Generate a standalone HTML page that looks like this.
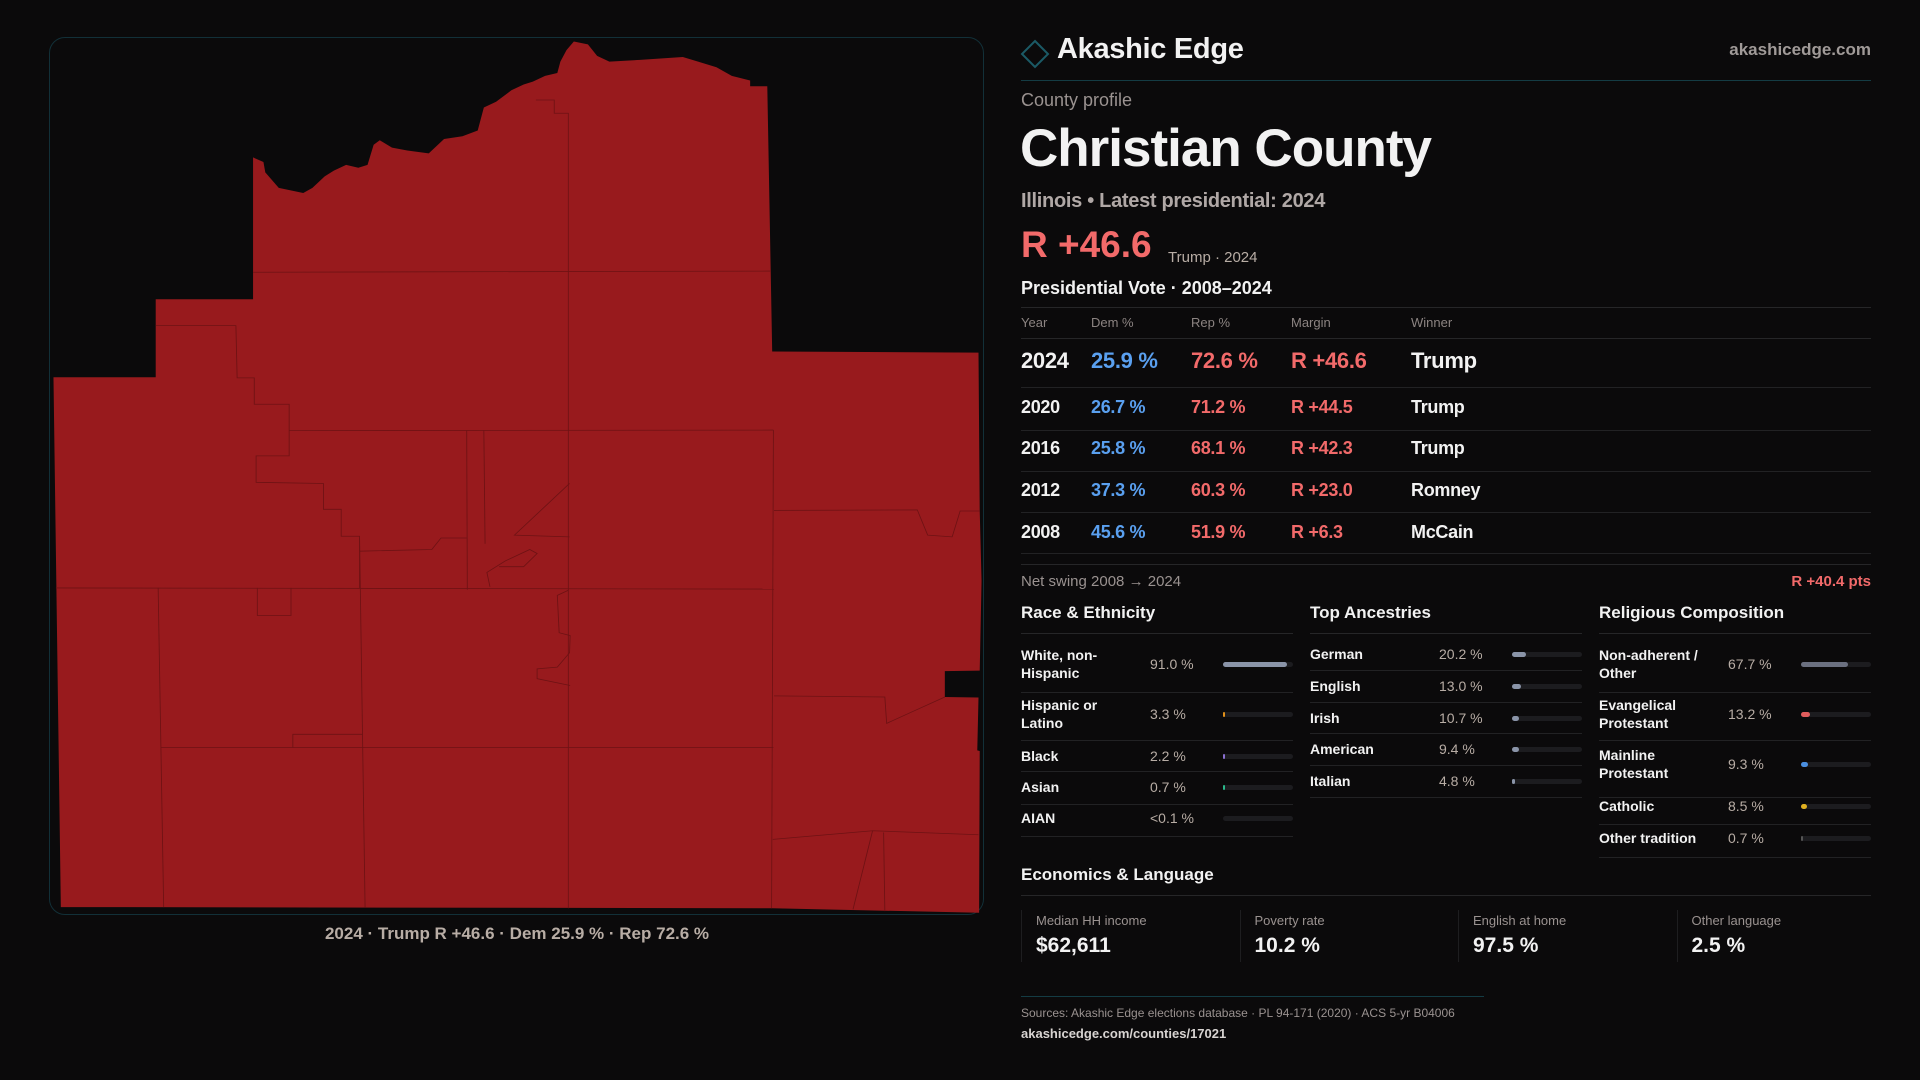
<!DOCTYPE html>
<html><head><meta charset="utf-8">
<style>
*{margin:0;padding:0;box-sizing:border-box}
body{width:1920px;height:1080px;background:#0b0a0b;font-family:"Liberation Sans",sans-serif;color:#f2f2f2;position:relative;overflow:hidden}
.abs{position:absolute;white-space:nowrap}
.hl{position:absolute;height:1px;background:#262628}
.g{color:#9a9290}
.track{position:absolute;height:5px;border-radius:3px;background:#1c1c1f}
.fill{position:absolute;left:0;top:0;height:5px;border-radius:3px}
</style></head><body>
<div style="position:absolute;left:49px;top:37px;width:935px;height:878px;border:1px solid #123038;border-radius:16px;background:#0b0a0b"></div>
<svg width="1920" height="1080" style="position:absolute;left:0;top:0">
<g transform="translate(40,30) scale(0.6122,0.574)" fill="none">
<path fill="#981a1d" d="M348,222 L365,230 L368,248 L390,275 L430,284 L445,275 L465,255 L480,245 L500,235 L520,240 L535,235 L545,200 L555,192 L575,205 L600,210 L635,215 L660,190 L690,185 L715,175 L725,135 L745,125 L770,105 L790,95 L805,90 L825,80 L845,75 L850,55 L860,35 L872,20 L895,25 L910,45 L930,55 L980,52 L1050,47 L1075,55 L1105,65 L1130,80 L1160,88 L1160,98 L1188,98 L1196,560 L1533,562 L1535,838 L1538,960 L1535,1116 L1478,1117 L1478,1162 L1533,1163 L1531,1255 L1535,1256 L1534,1538 L1196,1530 L34,1528 L22,605 L189,605 L189,469 L348,469 Z"/>
<g stroke="#6e1214" stroke-width="1.4">
<path d="M348,422 L1194,420"/>
<path d="M810,122 L840,122 L840,145 L863,145 L863,1530"/>
<path d="M407,698 L1198,697"/>
<path d="M26,972 L1199,974"/>
<path d="M1198,697 L1195,1530"/>
<path d="M1199,837 L1433,836 L1450,880 L1490,883 L1503,838 L1535,838"/>
<path d="M1199,1160 L1380,1162 L1383,1208 L1420,1190 L1478,1162"/>
<path d="M198,1250 L1198,1250"/>
<path d="M193,972 L202,1528"/>
<path d="M522,885 L531,1528"/>
<path d="M1197,1410 L1360,1395 L1533,1402"/>
<path d="M1360,1395 L1328,1532"/>
<path d="M1378,1398 L1380,1535"/>
<path d="M189,515 L320,515 L322,606 L350,606 L350,652 L407,652 L407,742 L353,742 L353,788 L463,790 L463,835 L492,835 L492,882 L522,882 L522,972"/>
<path d="M697,698 L698,975"/>
<path d="M725,698 L727,895"/>
<path d="M865,790 L775,880 L865,883"/>
<path d="M522,908 L640,905 L655,885 L697,885"/>
<path d="M355,972 L355,1020 L410,1020 L410,972"/>
<path d="M413,1250 L413,1227 L527,1227"/>
<path d="M863,976 L845,985 L848,1050 L866,1055 L865,1085 L845,1110 L812,1113 L812,1130 L866,1142"/>
<path d="M735,970 L730,945 L760,925 L800,905 L812,912 L790,935 L750,935"/>
</g></g></svg>
<div class="abs" style="left:0;width:1034px;text-align:center;top:924px;font-size:17px;font-weight:bold;color:#b8ada5">2024 · Trump R +46.6 · Dem 25.9 % · Rep 72.6 %</div>

<svg width="30" height="30" style="position:absolute;left:1020px;top:39px"><path d="M15,2 L28,15 L15,28 L2,15 Z" fill="none" stroke="#1b5a66" stroke-width="2"/></svg>
<div class="abs" style="left:1057px;top:33px;font-size:29px;font-weight:bold;letter-spacing:-0.3px">Akashic Edge</div>
<div class="abs" style="right:49px;top:40px;font-size:17px;font-weight:bold;color:#a09a98">akashicedge.com</div>
<div class="hl" style="left:1021px;width:850px;top:80px;background:#143c44"></div>
<div class="abs g" style="left:1021px;top:90px;font-size:18px">County profile</div>
<div class="abs" style="left:1020px;top:118px;font-size:53px;font-weight:bold;letter-spacing:-1px">Christian County</div>
<div class="abs" style="left:1021px;top:190px;font-size:20px;font-weight:bold;color:#b0a8a6;letter-spacing:-0.3px">Illinois • Latest presidential: 2024</div>
<div class="abs" style="left:1021px;top:224px;font-size:37px;font-weight:bold;color:#f26a6a">R +46.6</div>
<div class="abs" style="left:1168px;top:249px;font-size:15px;color:#b8ada5">Trump · 2024</div>
<div class="abs" style="left:1021px;top:278px;font-size:18px;font-weight:bold">Presidential Vote · 2008–2024</div>
<div class="hl" style="left:1021px;width:850px;top:307px"></div>
<div id="vt"></div>

<div class="abs g" style="left:1021px;top:573px;font-size:15px">Net swing 2008 → 2024</div>
<div class="abs" style="right:49px;top:573px;font-size:15px;font-weight:bold;color:#f26a6a">R +40.4 pts</div>
<div id="demo"></div>

<div class="abs" style="left:1021px;top:865px;font-size:17px;font-weight:bold">Economics &amp; Language</div>
<div class="hl" style="left:1021px;width:850px;top:895px"></div>
<div id="econ"></div>
<div class="hl" style="left:1021px;width:463px;top:996px;background:#143c44"></div>
<div class="abs g" style="left:1021px;top:1006px;font-size:12px">Sources: Akashic Edge elections database · PL 94-171 (2020) · ACS 5-yr B04006</div>
<div class="abs" style="left:1021px;top:1026px;font-size:13px;font-weight:bold;color:#d8d4d2">akashicedge.com/counties/17021</div>

<script>
const years=["2024","2020","2016","2012","2008"];
const demPct=[25.9,26.7,25.8,37.3,45.6];
const repPct=[72.6,71.2,68.1,60.3,51.9];
const margins=[46.6,44.5,42.3,23.0,6.3];
const winners=["Trump","Trump","Trump","Romney","McCain"];
const raceLabels=["White, non-<br>Hispanic","Hispanic or<br>Latino","Black","Asian","AIAN"];
const raceValues=[91.0,3.3,2.2,0.7,0.05];
const raceText=["91.0 %","3.3 %","2.2 %","0.7 %","<0.1 %"];
const ancLabels=["German","English","Irish","American","Italian"];
const ancValues=[20.2,13.0,10.7,9.4,4.8];
const relLabels=["Non-adherent /<br>Other","Evangelical<br>Protestant","Mainline<br>Protestant","Catholic","Other tradition"];
const relValues=[67.7,13.2,9.3,8.5,0.7];
const econLabels=["Median HH income","Poverty rate","English at home","Other language"];
const econValues=["$62,611","10.2 %","97.5 %","2.5 %"];

function mk(parent,html,style){const d=document.createElement('div');d.className='abs';d.style.cssText=style;d.innerHTML=html;parent.appendChild(d);return d;}
const vt=document.getElementById('vt');
const hdrX=[1021,1091,1191,1291,1411],hdr=["Year","Dem %","Rep %","Margin","Winner"];
hdr.forEach((h,i)=>{const e=mk(vt,h,`left:${hdrX[i]}px;top:315px;font-size:13px;color:#8c8482`);

});
mk(vt,'','left:1021px;width:850px;top:338px;height:1px;background:#262628');
const rowY=[361,408,449,491,533],lineY=[387,430,471,512,553];
years.forEach((y,i)=>{
 const fs=i===0?22:18;const t=rowY[i]-fs*0.6;
 const cells=[[y,'#f2f2f2'],[demPct[i].toFixed(1)+' %','#5aa0f0'],[repPct[i].toFixed(1)+' %','#f26a6a'],['R +'+margins[i].toFixed(1),'#f26a6a'],[winners[i],'#f2f2f2']];
 cells.forEach((c,j)=>{const e=mk(vt,c[0],`left:${hdrX[j]}px;top:${t}px;font-size:${fs}px;font-weight:bold;color:${c[1]};letter-spacing:-0.3px`);
 
 });
 const l=mk(vt,'',`left:1021px;width:850px;top:${lineY[i]}px;height:1px;background:#222224`);
 
 
});
mk(vt,'','left:1021px;width:850px;top:564px;height:1px;background:#262628');

const demo=document.getElementById('demo');
function section(x,title,labels,values,texts,rowYs,lineYs,colors,name){
 const t=mk(demo,title,`left:${x}px;top:603px;font-size:17px;font-weight:bold`);
 
 
 mk(demo,'',`left:${x}px;width:272px;top:633px;height:1px;background:#262628`);
 labels.forEach((lb,i)=>{
  const two=lb.indexOf('<br>')>=0;
  const a=mk(demo,lb,`left:${x}px;top:${rowYs[i]-(two?18:9)}px;font-size:14px;font-weight:bold;line-height:18px`);
  
  
  const v=mk(demo,texts[i],`left:${x+129}px;top:${rowYs[i]-9}px;font-size:14px;line-height:18px;color:#b8ada5`);
  
  
  const tr=document.createElement('div');tr.className='track';
  tr.style.cssText=`left:${x+202}px;top:${rowYs[i]-2}px;width:70px`;
  
  
  const f=document.createElement('div');f.className='fill';
  const w=values[i]<0.5?0:Math.max(2,values[i]/100*70);
  f.style.width=w+'px';f.style.background=colors[i];
  
  
  tr.appendChild(f);demo.appendChild(tr);
  mk(demo,'',`left:${x}px;width:272px;top:${lineYs[i]}px;height:1px;background:#222224`);
 });
}
section(1021,'Race &amp; Ethnicity',raceLabels,raceValues,raceText,[664,714,756,787,818],[692,740,771,804,836],['#8a94a8','#e0901a','#8a70d0','#2ab88a','#555'],'race');
section(1310,'Top Ancestries',ancLabels,ancValues,ancValues.map(v=>v.toFixed(1)+' %'),[654,686,718,749,781],[670,702,733,765,797],Array(5).fill('#8a94a8'),'ancestry');
section(1599,'Religious Composition',relLabels,relValues,relValues.map(v=>v.toFixed(1)+' %'),[664,714,764,806,838],[692,740,797,824,857],['#6b7080','#e05c5c','#4a8fe0','#e0b020','#555'],'religion');

const econ=document.getElementById('econ');
econLabels.forEach((lb,i)=>{
 const x=1021+i*218.5;
 mk(econ,'',`left:${x}px;top:910px;width:1px;height:52px;background:#1e1e20`);
 const a=mk(econ,lb,`left:${x+15}px;top:913px;font-size:13px;color:#9a9290`);
 
 
 const v=mk(econ,econValues[i],`left:${x+15}px;top:934px;font-size:21px;font-weight:bold`);
 
 
});
</script>
</body></html>
